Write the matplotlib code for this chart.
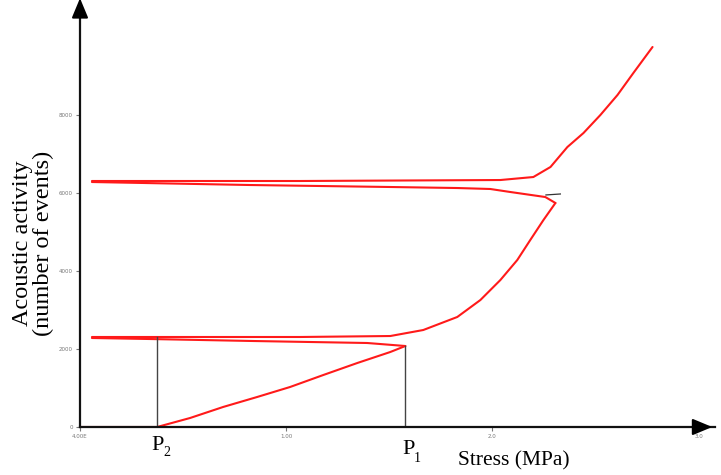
import matplotlib
matplotlib.use("Agg")
import matplotlib.pyplot as plt

serif = "Liberation Serif"

# stress (MPa) / acoustic events
load1_x = [0.0, 0.374, 0.534, 0.694, 0.859, 1.019, 1.180, 1.345, 1.505, 1.578]
load1_y = [0, 0, 231, 513, 769, 1026, 1333, 1641, 1923, 2077]

unload1_x = [1.578, 1.393, 0.840, 0.340, 0.058]
unload1_y = [2077, 2154, 2205, 2256, 2282]

reload1_x = [0.058, 1.068, 1.505, 1.665, 1.830, 1.942, 2.039, 2.121, 2.184, 2.248, 2.306]
reload1_y = [2308, 2308, 2333, 2487, 2821, 3256, 3769, 4282, 4795, 5308, 5744]

unload2_x = [2.306, 2.257, 2.087, 1.990, 1.830, 1.505, 0.825, 0.058]
unload2_y = [5744, 5897, 6026, 6103, 6128, 6154, 6205, 6282]

reload2_x = [0.058, 1.068, 2.039, 2.199, 2.282, 2.364, 2.442, 2.524, 2.607, 2.684, 2.777]
reload2_y = [6308, 6308, 6333, 6410, 6667, 7179, 7538, 8000, 8513, 9077, 9744]

p1 = (1.578, 2077)
p2 = (0.374, 2308)

xticks = [0, 1, 2, 3]
xticklabels = ["4.00E", "1.00", "2.0", "3.0"]
yticks = [0, 2000, 4000, 6000, 8000]
yticklabels = ["0", "2000", "4000", "6000", "8000"]

red = "#ff1a1a"

fig = plt.figure(figsize=(7.21, 4.75), dpi=100)
ax = fig.add_axes([80 / 721, 48 / 475, 635 / 721, 419 / 475])

for xs, ys in [(load1_x, load1_y), (unload1_x, unload1_y), (reload1_x, reload1_y),
               (unload2_x, unload2_y), (reload2_x, reload2_y)]:
    ax.plot(xs, ys, color=red, lw=1.5, solid_joinstyle="round", solid_capstyle="round")

# small dark mark at the second turning point
ax.plot([2.26, 2.33], [5950, 5975], color="#333333", lw=0.9)

# P markers
ax.plot([p1[0], p1[0]], [0, p1[1]], color="#444444", lw=1)
ax.plot([p2[0], p2[0]], [0, p2[1]], color="#444444", lw=1)

ax.set_xlim(0, 3.08)
ax.set_ylim(0, 10744)

for s in ["top", "right"]:
    ax.spines[s].set_visible(False)
for s in ["left", "bottom"]:
    ax.spines[s].set_color("#111111")
    ax.spines[s].set_linewidth(1.6)

# arrow heads
ax.annotate("", xy=(1.0, 0), xycoords="axes fraction", xytext=(0.97, 0),
            arrowprops=dict(arrowstyle="-|>,head_length=1.2,head_width=0.5", color="black", lw=1.5))
ax.annotate("", xy=(0, 1.03), xycoords="axes fraction", xytext=(0, 0.97),
            arrowprops=dict(arrowstyle="-|>,head_length=1.2,head_width=0.5", color="black", lw=1.5),
            annotation_clip=False)

ax.set_xticks(xticks)
ax.set_xticklabels(xticklabels, fontsize=4, color="#777777")
ax.set_yticks(yticks)
ax.set_yticklabels(yticklabels, fontsize=4, color="#6a6a90")
ax.tick_params(length=3, width=0.8, colors="#777777", pad=2)

fig.text(33 / 721, 1 - 243 / 475, "Acoustic activity\n(number of events)", rotation=90,
         ha="center", va="center", ma="center", family=serif, fontsize=17.5, linespacing=1.0)
fig.text(458 / 721, 1 - 461 / 475, "Stress (MPa)", ha="left", va="center",
         family=serif, fontsize=15.5)

# P labels with small lowered subscripts
fig.text(151 / 721, 1 - 445 / 475, "P", ha="left", va="center", family=serif, fontsize=16)
fig.text(163 / 721, 1 - 453 / 475, "2", ha="left", va="center", family=serif, fontsize=10)
fig.text(402 / 721, 1 - 450 / 475, "P", ha="left", va="center", family=serif, fontsize=16)
fig.text(414 / 721, 1 - 458 / 475, "1", ha="left", va="center", family=serif, fontsize=10)

fig.savefig("out.png", dpi=100)
